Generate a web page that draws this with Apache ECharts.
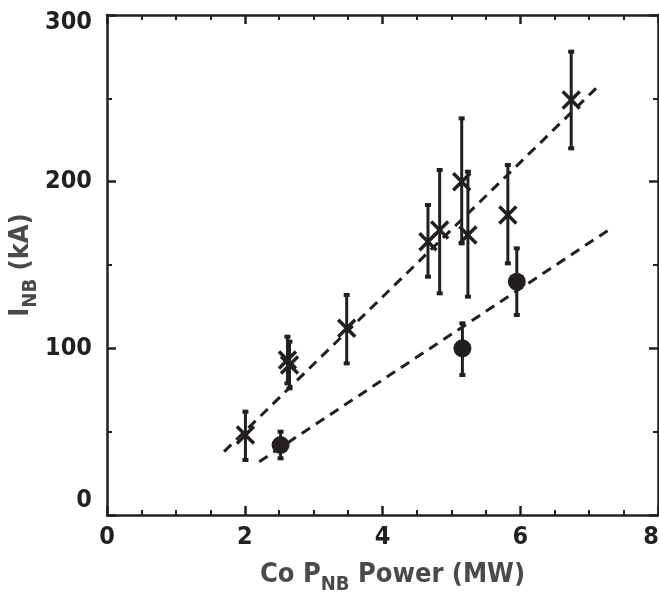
<!DOCTYPE html>
<html>
<head>
<meta charset="utf-8">
<script src="https://cdn.jsdelivr.net/npm/echarts@6/dist/echarts.min.js"></script>
<style>
  html, body { margin: 0; padding: 0; background: #fff; }
  #chart { width: 659px; height: 596px; }
</style>
</head>
<body>
<div id="chart"></div>
<script>
// crosses (with error bars)
const crossX  = [2.01, 2.62, 2.65, 3.48, 4.66, 4.83, 5.15, 5.24, 5.82, 6.74];
const crossY  = [48, 93, 90, 112, 164, 171, 200, 168, 180, 249];
const crossLo = [33, 79, 76, 91, 143, 133, 163, 131, 151, 220];
const crossHi = [62, 107, 104, 132, 186, 207, 238, 206, 210, 278];

// filled circles (with error bars)
const circX  = [2.52, 5.16, 5.95];
const circY  = [42, 100, 140];
const circLo = [34, 84, 120];
const circHi = [50, 115, 160];

// dashed fit lines, end points
const fitHighX = [1.70, 7.15];
const fitHighY = [38, 258];
const fitLowX  = [2.21, 7.32];
const fitLowY  = [32, 172];

const INK = '#231f20';
const FONT = '"Liberation Sans Narrow", "DejaVu Sans Condensed", "Roboto Condensed", "Liberation Sans", sans-serif';

function errorItem(kind) {
  return function (params, api) {
    const x = api.value(0);
    const c = api.coord([x, api.value(1)]);
    const lo = api.coord([x, api.value(2)]);
    const hi = api.coord([x, api.value(3)]);
    const children = [
      { type: 'line', shape: { x1: c[0], y1: hi[1], x2: c[0], y2: lo[1] }, style: { stroke: INK, lineWidth: 3 } },
      { type: 'rect', shape: { x: c[0] - 3, y: hi[1] - 2, width: 6, height: 4 }, style: { fill: INK } },
      { type: 'rect', shape: { x: c[0] - 3, y: lo[1] - 2, width: 6, height: 4 }, style: { fill: INK } }
    ];
    if (kind === 'cross') {
      const r = 8.5;
      children.push(
        { type: 'line', shape: { x1: c[0] - r, y1: c[1] - r, x2: c[0] + r, y2: c[1] + r }, style: { stroke: INK, lineWidth: 3.5 } },
        { type: 'line', shape: { x1: c[0] - r, y1: c[1] + r, x2: c[0] + r, y2: c[1] - r }, style: { stroke: INK, lineWidth: 3.5 } }
      );
    } else {
      children.push({ type: 'circle', shape: { cx: c[0], cy: c[1], r: 9 }, style: { fill: INK } });
    }
    return { type: 'group', children };
  };
}

const labelStyle = { color: INK, fontFamily: FONT, fontWeight: 'bold', fontSize: 25 };
// subscript: both tokens top aligned, the small one pushed down with padding
const titleRich = {
  m: { fontSize: 27, fontWeight: 'bold', fontFamily: FONT, color: '#4a4a4a', verticalAlign: 'top' },
  s: { fontSize: 20, fontWeight: 'bold', fontFamily: FONT, color: '#4a4a4a', verticalAlign: 'top', padding: [14, 0, 0, 0] }
};

const axisBase = {
  type: 'value',
  axisLine: { show: true, onZero: false, lineStyle: { color: INK, width: 2.5 } },
  axisTick: { show: true, inside: true, length: 9, lineStyle: { color: INK, width: 2.5 } },
  minorTick: { show: true, length: 5, lineStyle: { color: INK, width: 2 } },
  splitLine: { show: false },
  minorSplitLine: { show: false }
};

const chart = echarts.init(document.getElementById('chart'));

chart.setOption({
  animation: false,
  grid: { left: 107, right: 1, top: 15, bottom: 81, containLabel: false, outerBoundsMode: 'none' },
  xAxis: [
    Object.assign({}, axisBase, {
      min: 0, max: 8, interval: 2, position: 'bottom',
      minorTick: Object.assign({}, axisBase.minorTick, { splitNumber: 4 }),
      axisLabel: Object.assign({}, labelStyle, {
        margin: 10,
        formatter: v => v === 8 ? '{r|8}' : String(v),
        rich: { r: Object.assign({}, labelStyle, { padding: [0, 14, 0, 0] }) }
      }),
      name: '{m|Co P}{s|NB}{m| Power (MW)}',
      nameLocation: 'middle',
      nameGap: 46,
      nameTextStyle: { rich: titleRich, padding: [0, 0, 0, 20] }
    }),
    Object.assign({}, axisBase, {
      min: 0, max: 8, interval: 2, position: 'top',
      minorTick: Object.assign({}, axisBase.minorTick, { splitNumber: 4 }),
      axisLabel: { show: false }
    })
  ],
  yAxis: [
    Object.assign({}, axisBase, {
      min: 0, max: 300, interval: 100, position: 'left',
      minorTick: Object.assign({}, axisBase.minorTick, { splitNumber: 2 }),
      axisLabel: Object.assign({}, labelStyle, {
        margin: 15,
        formatter: v => v === 300 ? '{t|300}' : v === 0 ? '{b|0}' : String(v),
        rich: {
          t: Object.assign({}, labelStyle, { padding: [14, 0, 0, 0] }),
          b: Object.assign({}, labelStyle, { padding: [0, 0, 30, 0] })
        }
      }),
      name: '{m|I}{s|NB}{m| (kA)}',
      nameLocation: 'middle',
      nameRotate: 90,
      nameGap: 66,
      nameMoveOverlap: false,
      nameTextStyle: { rich: titleRich }
    }),
    Object.assign({}, axisBase, {
      min: 0, max: 300, interval: 100, position: 'right',
      minorTick: Object.assign({}, axisBase.minorTick, { splitNumber: 2 }),
      axisLabel: { show: false }
    })
  ],
  series: [
    {
      type: 'line',
      data: fitHighX.map((x, i) => [x, fitHighY[i]]),
      showSymbol: false,
      lineStyle: { color: INK, width: 3, type: [10, 7] }
    },
    {
      type: 'line',
      data: fitLowX.map((x, i) => [x, fitLowY[i]]),
      showSymbol: false,
      lineStyle: { color: INK, width: 3, type: [10, 7] }
    },
    {
      type: 'custom',
      renderItem: errorItem('cross'),
      data: crossX.map((x, i) => [x, crossY[i], crossLo[i], crossHi[i]]),
      encode: { x: 0, y: 1 },
      clip: false
    },
    {
      type: 'custom',
      renderItem: errorItem('circle'),
      data: circX.map((x, i) => [x, circY[i], circLo[i], circHi[i]]),
      encode: { x: 0, y: 1 },
      clip: false
    }
  ]
});
</script>
</body>
</html>
